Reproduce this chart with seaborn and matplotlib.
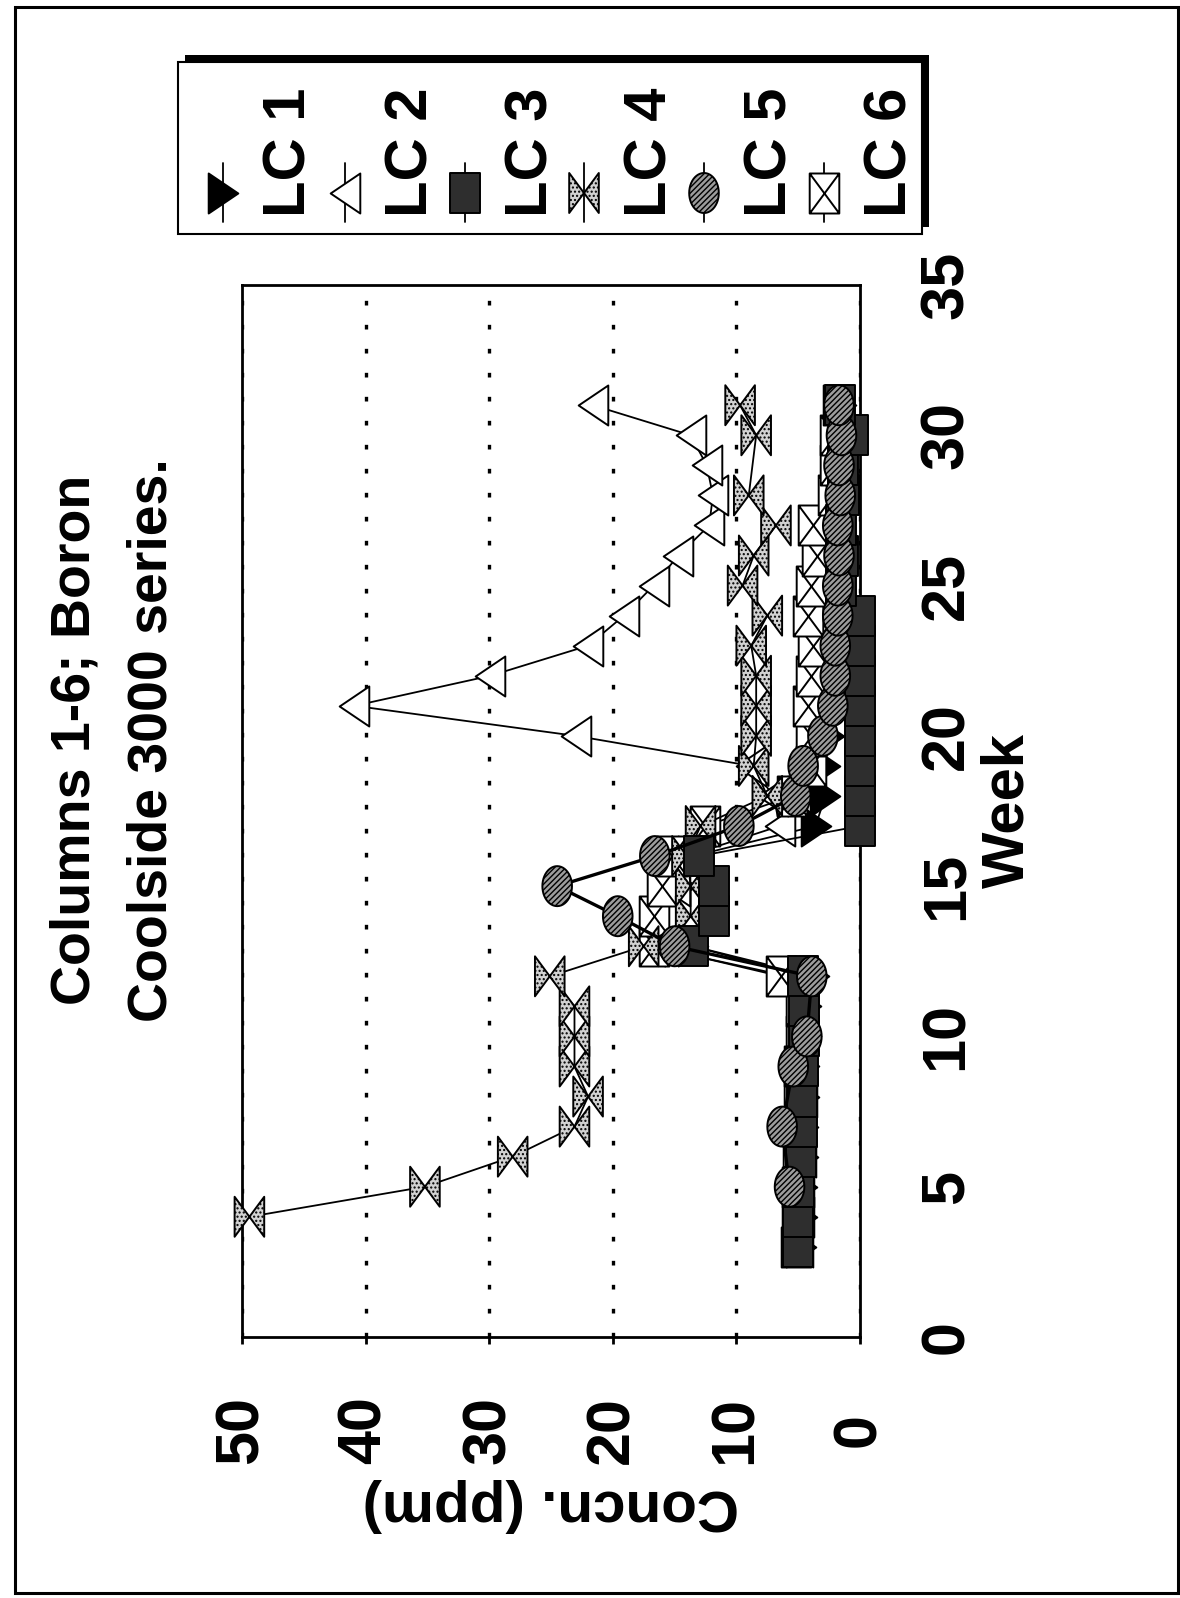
import numpy as np
import matplotlib
matplotlib.use("Agg")
import matplotlib.pyplot as plt
from matplotlib.path import Path
from matplotlib.markers import MarkerStyle
from matplotlib.patches import Rectangle
import seaborn as sns

# ---------------------------------------------------------------- data
series_names = ["LC 1", "LC 2", "LC 3", "LC 4", "LC 5", "LC 6"]

weeks_lc1 = list(range(3, 32))
conc_lc1 = [4.8, 4.7, 4.7, 4.6, 4.6, 4.5, 4.5, 4.4, 4.4, 3.7,
            13.5, 15.9, 14.5, 13.5,
            3.6, 2.8, 2.8, 2.5,
            2.2, 2.0, 2.0, 1.8, 1.8, 1.7, 1.6, 1.6, 1.5, 1.5, 1.5]

weeks_lc2 = list(range(3, 32))
conc_lc2 = [5.0, 4.9, 4.9, 4.8, 4.8, 4.7, 4.7, 4.6, 4.6, 5.8,
            17.0, 16.0, 15.0, 14.0,
            6.5, 7.0, 8.8,
            23.0, 40.9, 29.9, 22.0, 19.1, 16.7, 14.7, 12.2, 11.9, 12.4, 13.7, 21.6]

weeks_lc3 = list(range(3, 32))
conc_lc3 = [5.0, 5.0, 4.9, 4.8, 4.7, 4.7, 4.6, 4.5, 4.5, 4.6,
            13.5, 11.8, 11.8, 13.0,
            0, 0, 0, 0, 0, 0, 0, 0,
            1.5, 1.4, 1.5, 1.3, 1.4, 0.6, 1.6]

weeks_lc4 = [4, 5, 6, 7, 8, 9, 10, 11, 12, 13, 14, 15, 16, 17, 18, 19, 20,
             21, 22, 23, 24, 25, 26, 27, 28, 30, 31]
conc_lc4 = [49.4, 35.2, 28.1, 23.1, 22.0, 23.1, 23.1, 23.1, 25.1,
            17.5, 13.7, 13.7, 14.0, 12.9,
            7.5, 8.6, 8.4, 8.4, 8.4, 8.8, 7.5, 9.5, 8.6, 6.8, 9.0, 8.4, 9.7]

weeks_lc5 = [5, 7, 9, 10, 12] + list(range(13, 32))
conc_lc5 = [5.7, 6.3, 5.4, 4.3, 3.9,
            15.0, 19.6, 24.5, 16.6, 9.8,
            5.2, 4.6, 3.0, 2.2, 2.0, 2.0, 1.8, 1.8, 1.7, 1.8, 1.6, 1.7, 1.5, 1.7]

weeks_lc6 = list(range(3, 32))
conc_lc6 = [5.2, 5.1, 5.1, 5.0, 5.0, 4.9, 4.9, 4.8, 4.8, 6.4,
            16.7, 16.7, 16.0, 15.2,
            12.5, 5.5, 4.0, 4.0, 4.2, 4.0, 3.8, 4.2, 4.0, 3.5, 3.8,
            2.2, 2.0, 2.0, 1.8]

concn_ticks = [0, 10, 20, 30, 40, 50]
week_ticks = [0, 5, 10, 15, 20, 25, 30, 35]
title_line1 = "Columns 1-6; Boron"
title_line2 = "Coolside 3000 series."
concn_label = "Concn. (ppm)"
week_label = "Week"

# ---------------------------------------------------------------- style
W, H = 1180, 1598
sns.set_theme(style="white")
plt.rcParams["font.family"] = ["Liberation Sans", "DejaVu Sans"]
plt.rcParams["font.weight"] = "bold"
plt.rcParams["axes.labelweight"] = "bold"
plt.rcParams["hatch.linewidth"] = 1.0

fig = plt.figure(figsize=(W / 100, H / 100), dpi=100)
fig.patch.set_facecolor("white")


def fx(px):
    return px / W


def fy(py):
    return 1 - py / H


AX_L, AX_R, AX_T, AX_B = 242, 860, 285, 1337
ax = fig.add_axes([fx(AX_L), fy(AX_B), (AX_R - AX_L) / W, (AX_B - AX_T) / H])
ax.set_facecolor("white")

# marker outlines, a little taller than wide
HW, HH = 0.37, 0.5


def poly(pts):
    pts = [tuple(map(float, p)) for p in pts]
    verts = pts + [pts[0]]
    codes = [Path.MOVETO] + [Path.LINETO] * (len(pts) - 1) + [Path.CLOSEPOLY]
    return Path(verts, codes)


tri_right = poly([(-HW, HH), (HW, 0), (-HW, -HH)])
tri_left = poly([(HW, HH), (-HW, 0), (HW, -HH)])
box = poly([(-HW, -HH), (HW, -HH), (HW, HH), (-HW, HH)])
bowtie = poly([(-HW, HH), (-HW, -HH), (0, 0), (HW, HH), (HW, -HH), (0, 0)])
_t = np.linspace(0, 2 * np.pi, 48, endpoint=False)
ellipse = poly(list(zip(HW * np.cos(_t), HH * np.sin(_t))))
crossbox = Path(
    box.vertices.tolist() + [(-HW, -HH), (HW, HH), (-HW, HH), (HW, -HH)],
    list(box.codes) + [Path.MOVETO, Path.LINETO, Path.MOVETO, Path.LINETO],
)

MARKER_S = 830
styles = {
    "LC 1": dict(path=tri_right, face="black", hatch=None, lw=1.3, z=3),
    "LC 2": dict(path=tri_left, face="white", hatch=None, lw=1.3, z=4),
    "LC 3": dict(path=box, face="#2e2e2e", hatch=None, lw=1.3, z=7),
    "LC 4": dict(path=bowtie, face="#d2d2d2", hatch="....", lw=1.3, z=6),
    "LC 5": dict(path=ellipse, face="#9c9c9c", hatch="//////", lw=2.4, z=8),
    "LC 6": dict(path=crossbox, face="white", hatch=None, lw=1.3, z=5),
}
series_data = {
    "LC 1": (weeks_lc1, conc_lc1),
    "LC 2": (weeks_lc2, conc_lc2),
    "LC 3": (weeks_lc3, conc_lc3),
    "LC 4": (weeks_lc4, conc_lc4),
    "LC 5": (weeks_lc5, conc_lc5),
    "LC 6": (weeks_lc6, conc_lc6),
}

# ---------------------------------------------------------------- series
for name in series_names:
    weeks, conc = series_data[name]
    st = styles[name]
    sns.lineplot(x=conc, y=weeks, sort=False, estimator=None, color="black",
                 linewidth=st["lw"], ax=ax, zorder=st["z"])
    sns.scatterplot(x=conc, y=weeks, marker=MarkerStyle(st["path"]), s=MARKER_S,
                    color=st["face"], edgecolor="black", linewidth=1.4,
                    ax=ax, zorder=st["z"] + 0.5, clip_on=False, legend=False)
    if st["hatch"]:
        ax.collections[-1].set_hatch(st["hatch"])

# ---------------------------------------------------------------- axes
ax.set_xlim(50, 0)
ax.set_ylim(0, 35)
ax.set_xticks(concn_ticks)
ax.set_xticklabels([str(v) for v in concn_ticks])
ax.set_yticks(week_ticks)
ax.set_yticklabels([str(v) for v in week_ticks])

ax.grid(False)
ax.grid(axis="x", color="black", linewidth=2.4, linestyle=(0, (1.4, 5.8)), zorder=1)
for sp in ax.spines.values():
    sp.set_visible(True)
    sp.set_color("black")
    sp.set_linewidth(2)

ax.tick_params(axis="x", bottom=True, top=False, direction="out", length=5,
               width=2, color="black", pad=62, labelsize=44, labelrotation=90)
ax.tick_params(axis="y", left=False, right=True, labelleft=False, labelright=True,
               length=0, pad=63, labelsize=44, labelrotation=90)
for lb in ax.get_xticklabels() + ax.get_yticklabels():
    lb.set_ha("center")
    lb.set_va("center")
    lb.set_fontweight("bold")
    lb.set_color("black")

ax.yaxis.set_label_position("right")
ax.set_ylabel(week_label, fontsize=43, fontweight="bold", rotation=90,
              va="center", ha="center", color="black")
ax.yaxis.set_label_coords((1008 - AX_L) / (AX_R - AX_L), 0.5)
ax.set_xlabel(concn_label, fontsize=42, fontweight="bold", rotation=180,
              va="center", ha="center", color="black")
ax.xaxis.set_label_coords(0.5, (AX_B - 1505) / (AX_B - AX_T))

# ---------------------------------------------------------------- overlay: title, legend, page frame
lax = fig.add_axes([0, 0, 1, 1])
lax.set_xlim(0, W)
lax.set_ylim(H, 0)
lax.axis("off")

lax.text(76, 740, title_line1, rotation=90, ha="center", va="center",
         fontsize=40, color="black")
lax.text(153, 740, title_line2, rotation=90, ha="center", va="center",
         fontsize=40, color="black")

# legend box with drop shadow
lax.add_patch(Rectangle((185, 55), 744, 172, facecolor="black", edgecolor="none"))
lax.add_patch(Rectangle((178, 62), 744, 172, facecolor="white", edgecolor="black",
                        linewidth=1.5))
marker_x = [223, 345, 465, 584, 704, 824]
for name, xm in zip(series_names, marker_x):
    st = styles[name]
    lax.plot([xm, xm], [163, 222], color="black", linewidth=1.3)
    sc = lax.scatter([xm], [193], marker=MarkerStyle(st["path"]), s=MARKER_S,
                     facecolor=st["face"], edgecolor="black", linewidth=1.4, zorder=3)
    if st["hatch"]:
        sc.set_hatch(st["hatch"])
    lax.text(xm + 67, 217, name, rotation=90, rotation_mode="anchor",
             ha="left", va="center", fontsize=43, color="black")

lax.add_patch(Rectangle((15, 7), 1163, 1586, fill=False, edgecolor="black",
                        linewidth=2.2))

fig.savefig("out.png", dpi=100, facecolor="white")
